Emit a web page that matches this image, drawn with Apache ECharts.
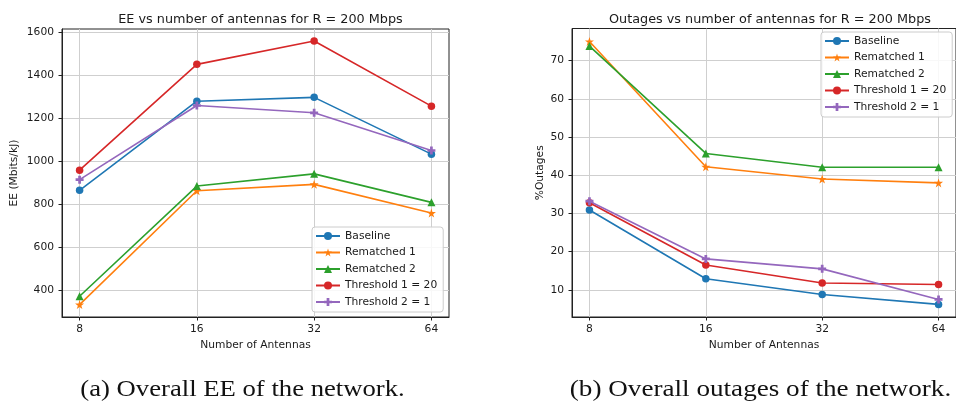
<!DOCTYPE html>
<html>
<head>
<meta charset="utf-8">
<script src="https://cdn.jsdelivr.net/npm/echarts@6/dist/echarts.min.js"></script>
<style>
html,body{margin:0;padding:0;background:#fff;}
#c{width:956px;height:402px;}
</style>
</head>
<body>
<div id="c"></div>
<script>
// ---- data ----
var antennas = ['8', '16', '32', '64'];
var xIdx = [0, 1, 2, 3];
var seriesNames = ['Baseline', 'Rematched 1', 'Rematched 2', 'Threshold 1 = 20', 'Threshold 2 = 1'];

var eeBaseline   = [864, 1280, 1298, 1033];
var eeRematched1 = [331, 862, 892, 758];
var eeRematched2 = [370, 884, 941, 808];
var eeThreshold1 = [958, 1452, 1561, 1257];
var eeThreshold2 = [914, 1260, 1226, 1050];

var outBaseline   = [30.9, 12.9, 8.8, 6.2];
var outRematched1 = [75.0, 42.2, 39.0, 38.0];
var outRematched2 = [73.8, 45.7, 42.1, 42.1];
var outThreshold1 = [32.8, 16.5, 11.8, 11.4];
var outThreshold2 = [33.2, 18.1, 15.5, 7.5];

var eeTicks  = [400, 600, 800, 1000, 1200, 1400, 1600];
var outTicks = [10, 20, 30, 40, 50, 60, 70];

// ---- styling ----
var colors = ['#1f77b4', '#ff7f0e', '#2ca02c', '#d62728', '#9467bd'];
var STAR = 'path://M50,0 L61.8,35.5 L99,35.5 L69,57.5 L80.5,93 L50,71 L19.5,93 L31,57.5 L1,35.5 L38.2,35.5 Z';
var PLUS = 'path://M33,0 H67 V33 H100 V67 H67 V100 H33 V67 H0 V33 H33 Z';
var symbols = ['circle', STAR, 'triangle', 'circle', PLUS];
var symSizes = [7.5, 9, 8, 7.5, 8];
var FONT = 'DejaVu Sans';
var TXT = '#1a1a1a';

function pairs(vals) { return xIdx.map(function (x, i) { return [x, vals[i]]; }); }

function makeSeries(list, gi) {
  return list.map(function (vals, k) {
    return {
      name: seriesNames[k], type: 'line', xAxisIndex: gi, yAxisIndex: gi,
      data: pairs(vals), symbol: symbols[k], symbolSize: symSizes[k],
      showAllSymbol: true, animation: false, z: 3 + k,
      lineStyle: { color: colors[k], width: 1.6 },
      itemStyle: { color: colors[k], borderWidth: 0 },
      emphasis: { disabled: true }
    };
  });
}

function xAxisOpt(gi) {
  return {
    gridIndex: gi, type: 'value', min: -0.15, max: 3.15,
    name: 'Number of Antennas', nameLocation: 'middle', nameGap: 21,
    nameTextStyle: { fontFamily: FONT, fontSize: 10.7, color: TXT },
    axisLine: { show: true, onZero: false, lineStyle: { color: '#222', width: 1 } },
    axisTick: { show: true, length: 3.5, customValues: xIdx, lineStyle: { color: '#222' } },
    axisLabel: { customValues: xIdx, margin: 7, fontFamily: FONT, fontSize: 10.7, color: TXT,
      formatter: function (v) { return antennas[Math.round(v)]; } },
    splitLine: { show: true, lineStyle: { color: '#cfcfcf', width: 1 } }
  };
}

function yAxisOpt(gi, min, max, ticks, name, gap) {
  return {
    gridIndex: gi, type: 'value', min: min, max: max,
    name: name, nameLocation: 'middle', nameGap: gap,
    nameTextStyle: { fontFamily: FONT, fontSize: 10.7, color: TXT },
    axisLine: { show: true, onZero: false, lineStyle: { color: '#222', width: 1 } },
    axisTick: { show: true, length: 3.5, customValues: ticks, lineStyle: { color: '#222' } },
    axisLabel: { customValues: ticks, margin: 8, fontFamily: FONT, fontSize: 10.7, color: TXT,
      formatter: function (v) { return String(Math.round(v)); } },
    splitLine: { show: true, lineStyle: { color: '#cfcfcf', width: 1 } }
  };
}

function legendOpt(left, top) {
  return {
    show: true, orient: 'vertical', left: left, top: top,
    data: seriesNames.map(function (n) { return { name: n }; }),
    itemWidth: 24, itemHeight: 10, itemGap: 4.5,
    padding: [3, 6, 4, 3],
    backgroundColor: 'rgba(255,255,255,0.85)',
    borderColor: '#cccccc', borderWidth: 1, borderRadius: 3,
    textStyle: { fontFamily: FONT, fontSize: 10.7, color: TXT, lineHeight: 12 },
    selectedMode: false
  };
}

var chart = echarts.init(document.getElementById('c'), null, { renderer: 'canvas' });

var series = makeSeries([eeBaseline, eeRematched1, eeRematched2, eeThreshold1, eeThreshold2], 0)
  .concat(makeSeries([outBaseline, outRematched1, outRematched2, outThreshold1, outThreshold2], 1));

var option = {
  backgroundColor: '#ffffff',
  animation: false,
  title: [
    { text: 'EE vs number of antennas for R = 200 Mbps', left: 255.5, top: 8, textAlign: 'center',
      textStyle: { fontFamily: FONT, fontSize: 12.8, fontWeight: 'normal', color: TXT } },
    { text: 'Outages vs number of antennas for R = 200 Mbps', left: 765, top: 8, textAlign: 'center',
      textStyle: { fontFamily: FONT, fontSize: 12.8, fontWeight: 'normal', color: TXT } }
  ],
  grid: [
    { left: 62, top: 29, width: 387, height: 288, show: true, borderColor: '#222', borderWidth: 1, backgroundColor: 'transparent' },
    { left: 572, top: 28.5, width: 387.3, height: 288.5, show: true, borderColor: '#222', borderWidth: 1, backgroundColor: 'transparent' }
  ],
  xAxis: [xAxisOpt(0), xAxisOpt(1)],
  yAxis: [
    yAxisOpt(0, 273, 1617, eeTicks, 'EE (Mbits/kJ)', 42),
    yAxisOpt(1, 2.9, 78.4, outTicks, '%Outages', 26)
  ],
  legend: [legendOpt(312, 227), legendOpt(821, 32)],
  series: series,
  graphic: [
    { type: 'text', x: 242.5, y: 390, scaleX: 1.16,
      style: { text: '(a) Overall EE of the network.', font: '23px "Liberation Serif"', fill: '#111',
        textAlign: 'center', textVerticalAlign: 'middle' } },
    { type: 'text', x: 760.5, y: 390, scaleX: 1.18,
      style: { text: '(b) Overall outages of the network.', font: '23px "Liberation Serif"', fill: '#111',
        textAlign: 'center', textVerticalAlign: 'middle' } }
  ]
};
chart.setOption(option);
</script>
</body>
</html>
